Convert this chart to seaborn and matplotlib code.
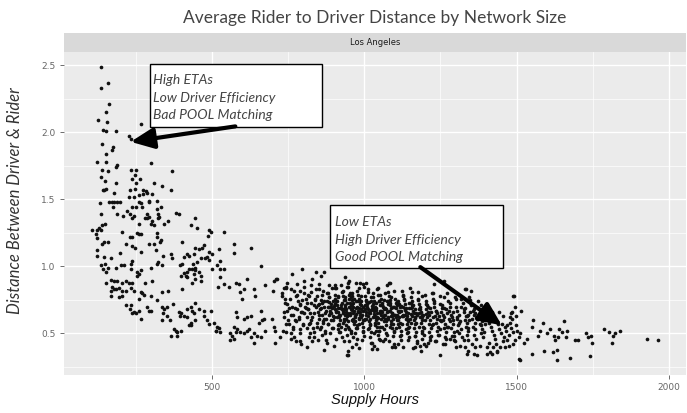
import numpy as np
import pandas as pd
import matplotlib
matplotlib.use("Agg")
import matplotlib.pyplot as plt
import seaborn as sns
from matplotlib.patches import Rectangle

# (supply hours, avg rider-driver distance)
spike_pts = [(136, 2.49), (158, 2.37), (134, 2.33), (161, 2.21), (150, 2.15), (125, 2.09), (153, 2.08),
             (142, 2.02), (150, 2.01), (183, 2.01), (265, 2.06), (227, 1.97), (234, 1.95), (139, 1.91),
             (174, 1.89), (172, 1.87), (150, 1.84), (123, 1.78), (150, 1.78), (186, 1.76), (183, 1.74),
             (298, 1.77), (139, 1.72), (158, 1.71), (232, 1.72), (249, 1.72), (369, 1.71), (136, 1.67),
             (147, 1.64), (245, 1.68), (238, 1.65), (263, 1.65), (185, 1.62), (249, 1.62), (309, 1.62),
             (334, 1.60), (145, 1.57), (142, 1.57), (150, 1.58), (229, 1.57), (246, 1.58), (274, 1.57),
             (284, 1.56), (287, 1.55), (271, 1.54), (363, 1.57), (177, 1.55), (259, 1.53), (243, 1.52),
             (227, 1.52), (303, 1.54), (317, 1.49), (292, 1.49)]

left_pts = [(130, 1.47), (161, 1.48), (172, 1.48), (177, 1.48), (188, 1.48), (197, 1.48), (259, 1.48),
            (267, 1.47), (292, 1.48), (331, 1.44), (175, 1.44), (238, 1.44), (249, 1.44), (268, 1.44),
            (320, 1.43), (136, 1.39), (186, 1.39), (221, 1.41), (229, 1.39), (243, 1.38), (285, 1.39),
            (292, 1.37), (322, 1.39), (325, 1.37), (380, 1.40), (391, 1.39), (208, 1.38), (238, 1.36),
            (279, 1.36), (287, 1.36), (303, 1.34), (322, 1.36), (355, 1.34), (342, 1.32), (445, 1.36),
            (431, 1.31), (451, 1.29), (298, 1.32), (309, 1.31), (259, 1.32), (147, 1.32), (139, 1.31),
            (128, 1.29), (121, 1.27), (106, 1.27), (134, 1.27), (117, 1.24), (205, 1.26), (252, 1.25),
            (259, 1.24), (267, 1.24), (317, 1.25), (320, 1.22), (230, 1.22), (238, 1.22), (489, 1.27),
            (495, 1.26), (538, 1.26), (486, 1.23), (123, 1.21), (145, 1.18), (139, 1.17), (158, 1.18),
            (216, 1.17), (238, 1.15), (245, 1.14), (292, 1.17), (309, 1.17), (328, 1.18), (331, 1.20),
            (402, 1.18), (473, 1.16), (467, 1.14), (456, 1.13), (445, 1.14), (573, 1.17), (626, 1.14),
            (522, 1.13), (573, 1.10), (489, 1.11), (500, 1.09), (440, 1.09), (416, 1.09), (424, 1.08),
            (363, 1.09), (339, 1.08), (314, 1.12), (265, 1.11), (197, 1.10), (121, 1.08), (123, 1.12),
            (145, 1.07), (166, 1.06), (369, 1.06), (407, 1.07), (476, 1.06), (484, 1.07), (489, 1.05),
            (464, 1.06), (451, 1.03), (438, 1.02), (445, 0.99), (442, 0.97), (434, 0.98), (424, 0.98),
            (400, 1.02), (394, 1.01), (322, 1.03), (336, 1.01), (238, 1.04), (234, 1.02), (199, 1.01),
            (183, 0.99), (147, 1.02), (136, 1.01), (142, 0.98), (158, 0.99), (210, 1.01), (232, 0.98),
            (254, 0.96), (298, 0.99), (317, 1.02), (527, 1.04), (517, 1.01), (527, 0.98), (538, 0.98),
            (500, 0.98), (659, 1.00), (416, 0.96), (413, 0.93), (418, 0.92), (440, 0.94), (445, 0.91),
            (456, 0.96), (464, 0.93), (462, 0.89), (434, 0.88), (407, 0.95), (398, 0.93), (265, 0.97),
            (259, 0.94), (252, 0.93), (150, 0.96), (169, 0.90), (177, 0.89), (188, 0.89), (205, 0.88),
            (216, 0.89), (227, 0.88), (238, 0.88), (278, 0.88), (303, 0.89), (150, 0.88), (527, 0.92),
            (538, 0.87), (519, 0.85), (555, 0.85), (577, 0.88), (588, 0.87), (613, 0.91), (604, 0.83),
            (593, 0.81), (599, 0.76), (637, 0.83), (642, 0.78), (675, 0.86), (703, 0.89), (711, 0.91),
            (700, 0.82), (172, 0.85), (177, 0.83), (166, 0.82), (183, 0.83), (194, 0.84), (205, 0.82),
            (216, 0.82), (232, 0.84), (243, 0.82), (265, 0.81), (270, 0.80), (336, 0.81), (355, 0.82),
            (402, 0.83), (320, 0.75), (298, 0.78), (276, 0.79), (259, 0.76), (166, 0.78), (194, 0.77),
            (205, 0.78), (216, 0.71), (232, 0.71), (230, 0.68), (243, 0.66), (249, 0.65), (238, 0.65),
            (259, 0.67), (287, 0.70), (292, 0.67), (298, 0.67), (336, 0.70), (342, 0.68), (352, 0.70),
            (339, 0.65), (372, 0.72), (391, 0.66), (396, 0.65), (418, 0.68), (429, 0.70), (434, 0.67),
            (440, 0.65), (445, 0.73), (456, 0.68), (473, 0.67), (473, 0.63), (497, 0.67), (267, 0.61),
            (336, 0.60), (352, 0.63), (361, 0.60), (394, 0.63), (407, 0.63), (416, 0.62), (429, 0.58),
            (424, 0.56), (445, 0.60), (484, 0.60), (489, 0.57), (506, 0.58), (517, 0.55), (514, 0.52),
            (522, 0.54), (511, 0.52), (527, 0.51), (577, 0.66), (582, 0.62), (604, 0.61), (615, 0.62),
            (626, 0.63), (659, 0.67), (670, 0.61), (664, 0.60), (653, 0.58), (697, 0.61), (374, 0.53),
            (380, 0.52), (385, 0.51), (396, 0.52), (363, 0.48), (385, 0.48), (429, 0.56), (571, 0.55),
            (582, 0.53), (577, 0.51), (604, 0.50), (615, 0.52), (620, 0.53), (626, 0.47), (637, 0.50),
            (648, 0.48), (659, 0.47), (675, 0.52), (708, 0.52), (703, 0.55), (724, 0.47), (558, 0.50),
            (566, 0.48), (560, 0.45), (571, 0.46), (593, 0.51), (637, 0.43), (706, 0.43)]

upper_mid_pts = [(796, 0.98), (763, 0.94), (840, 0.96), (856, 0.93), (867, 0.96), (714, 0.91), (747, 0.875),
                 (801, 0.89), (829, 0.91), (949, 0.89), (1004, 0.88), (1080, 0.88), (1228, 0.87),
                 (1261, 0.89), (944, 0.845), (905, 0.84), (883, 0.86), (851, 0.87), (780, 0.87),
                 (736, 0.84), (938, 0.92), (945, 0.88), (987, 0.88), (997, 0.87), (1083, 0.88),
                 (1332, 0.83), (1350, 0.82), (1490, 0.78)]

core_pts = [
    (730, 0.80), (738, 0.76), (745, 0.72), (752, 0.69), (735, 0.66), (760, 0.64), (748, 0.60), (742, 0.57),
    (765, 0.55), (758, 0.50), (770, 0.47), (733, 0.52), (775, 0.78), (782, 0.74), (790, 0.71), (778, 0.68),
    (795, 0.66), (785, 0.62), (772, 0.60), (798, 0.57), (788, 0.53), (776, 0.44), (792, 0.42), (760, 0.83),
    (742, 0.85), (790, 0.82),
    (803, 0.80), (808, 0.76), (812, 0.73), (806, 0.70), (815, 0.68), (820, 0.65), (810, 0.62), (825, 0.60),
    (818, 0.57), (830, 0.54), (822, 0.50), (835, 0.47), (828, 0.44), (812, 0.40), (840, 0.83), (845, 0.78),
    (838, 0.75), (850, 0.72), (842, 0.70), (855, 0.68), (848, 0.66), (860, 0.64), (852, 0.61), (865, 0.58),
    (858, 0.55), (870, 0.52), (862, 0.49), (875, 0.45), (880, 0.80), (885, 0.77), (878, 0.74), (890, 0.72),
    (883, 0.70), (895, 0.69), (888, 0.67), (872, 0.65), (898, 0.63), (892, 0.60), (880, 0.57), (896, 0.54),
    (886, 0.50), (899, 0.41), (868, 0.38), (826, 0.86), (864, 0.82), (816, 0.79), (893, 0.84), (857, 0.75),
    (833, 0.71), (869, 0.70), (874, 0.61), (846, 0.58), (884, 0.64), (861, 0.73),
    (902, 0.79), (905, 0.76), (908, 0.74), (903, 0.72), (910, 0.71), (913, 0.69), (907, 0.67), (915, 0.66),
    (918, 0.64), (911, 0.62), (920, 0.60), (916, 0.57), (923, 0.55), (919, 0.51), (925, 0.47), (928, 0.81),
    (930, 0.78), (933, 0.75), (927, 0.73), (935, 0.71), (938, 0.70), (932, 0.68), (940, 0.66), (936, 0.64),
    (943, 0.63), (939, 0.61), (945, 0.59), (941, 0.56), (948, 0.53), (944, 0.49), (950, 0.44), (946, 0.37),
    (952, 0.80), (955, 0.77), (958, 0.75), (953, 0.73), (960, 0.72), (963, 0.70), (957, 0.68), (965, 0.67),
    (962, 0.65), (968, 0.63), (964, 0.61), (970, 0.59), (966, 0.57), (972, 0.54), (969, 0.50), (975, 0.46),
    (971, 0.42), (977, 0.82), (980, 0.79), (983, 0.76), (978, 0.74), (985, 0.72), (988, 0.71), (982, 0.69),
    (990, 0.68), (986, 0.66), (993, 0.64), (989, 0.62), (995, 0.60), (991, 0.58), (997, 0.55), (994, 0.52),
    (998, 0.48), (984, 0.39), (906, 0.84), (922, 0.86), (947, 0.85), (974, 0.88), (999, 0.85), (912, 0.77),
    (937, 0.77), (961, 0.78), (987, 0.74), (924, 0.69), (949, 0.70), (973, 0.69), (929, 0.65), (954, 0.64),
    (979, 0.66), (934, 0.59), (959, 0.60), (981, 0.61), (914, 0.53), (956, 0.52), (976, 0.56),
    (1002, 0.78), (1005, 0.75), (1008, 0.73), (1003, 0.71), (1010, 0.70), (1013, 0.68), (1007, 0.66),
    (1015, 0.65), (1012, 0.63), (1018, 0.61), (1014, 0.59), (1020, 0.57), (1016, 0.54), (1022, 0.51),
    (1019, 0.47), (1024, 0.43), (1027, 0.80), (1030, 0.77), (1033, 0.74), (1028, 0.72), (1035, 0.70),
    (1038, 0.69), (1032, 0.67), (1040, 0.65), (1036, 0.63), (1043, 0.62), (1039, 0.60), (1045, 0.58),
    (1041, 0.55), (1048, 0.52), (1044, 0.49), (1050, 0.45), (1052, 0.79), (1055, 0.76), (1058, 0.73),
    (1053, 0.71), (1060, 0.70), (1063, 0.68), (1057, 0.66), (1065, 0.64), (1062, 0.62), (1068, 0.61),
    (1064, 0.59), (1070, 0.56), (1066, 0.53), (1072, 0.50), (1069, 0.46), (1077, 0.81), (1080, 0.78),
    (1083, 0.75), (1078, 0.72), (1085, 0.71), (1088, 0.69), (1082, 0.67), (1090, 0.65), (1086, 0.63),
    (1093, 0.61), (1089, 0.59), (1095, 0.57), (1091, 0.54), (1097, 0.51), (1094, 0.48), (1099, 0.42),
    (1011, 0.83), (1046, 0.84), (1074, 0.86), (1023, 0.74), (1049, 0.74), (1073, 0.74), (1025, 0.68),
    (1051, 0.67), (1075, 0.66), (1029, 0.62), (1054, 0.61), (1079, 0.62), (1034, 0.56), (1059, 0.55),
    (1084, 0.55), (1006, 0.61), (1037, 0.52), (1096, 0.64), (1061, 0.44), (1031, 0.41),
    (1102, 0.76), (1105, 0.73), (1108, 0.71), (1103, 0.69), (1110, 0.67), (1113, 0.66), (1107, 0.64),
    (1115, 0.62), (1112, 0.60), (1118, 0.58), (1114, 0.55), (1120, 0.52), (1116, 0.48), (1122, 0.45),
    (1127, 0.78), (1130, 0.75), (1133, 0.72), (1128, 0.70), (1135, 0.68), (1138, 0.66), (1132, 0.64),
    (1140, 0.63), (1136, 0.61), (1143, 0.59), (1139, 0.57), (1145, 0.54), (1141, 0.50), (1148, 0.47),
    (1152, 0.77), (1155, 0.74), (1158, 0.71), (1153, 0.69), (1160, 0.67), (1163, 0.65), (1157, 0.63),
    (1165, 0.62), (1162, 0.60), (1168, 0.57), (1164, 0.54), (1170, 0.51), (1166, 0.48), (1172, 0.44),
    (1177, 0.76), (1180, 0.72), (1183, 0.70), (1178, 0.68), (1185, 0.66), (1188, 0.64), (1182, 0.62),
    (1190, 0.60), (1186, 0.58), (1193, 0.55), (1189, 0.52), (1195, 0.49), (1191, 0.46), (1197, 0.42),
    (1124, 0.82), (1150, 0.84), (1175, 0.81), (1199, 0.79), (1117, 0.70), (1147, 0.69), (1171, 0.65),
    (1123, 0.63), (1154, 0.58), (1179, 0.55), (1111, 0.57), (1137, 0.53), (1161, 0.39), (1187, 0.37),
    (1126, 0.40),
    (1202, 0.74), (1206, 0.71), (1203, 0.68), (1210, 0.66), (1213, 0.64), (1207, 0.62), (1215, 0.60),
    (1212, 0.57), (1218, 0.54), (1214, 0.51), (1220, 0.48), (1225, 0.76), (1230, 0.73), (1228, 0.70),
    (1235, 0.67), (1238, 0.65), (1232, 0.63), (1240, 0.61), (1236, 0.58), (1243, 0.55), (1239, 0.52),
    (1245, 0.49), (1250, 0.72), (1255, 0.69), (1253, 0.66), (1260, 0.64), (1263, 0.62), (1257, 0.60),
    (1265, 0.57), (1262, 0.54), (1268, 0.51), (1264, 0.47), (1275, 0.74), (1280, 0.70), (1278, 0.67),
    (1285, 0.64), (1288, 0.62), (1282, 0.59), (1290, 0.57), (1286, 0.54), (1293, 0.51), (1289, 0.48),
    (1295, 0.45), (1222, 0.80), (1248, 0.78), (1272, 0.80), (1297, 0.77), (1217, 0.69), (1267, 0.68),
    (1247, 0.60), (1292, 0.60), (1227, 0.57), (1273, 0.55), (1258, 0.42), (1208, 0.43),
    (1302, 0.70), (1306, 0.67), (1310, 0.64), (1305, 0.61), (1313, 0.59), (1308, 0.56), (1316, 0.53),
    (1312, 0.50), (1320, 0.47), (1325, 0.73), (1330, 0.69), (1328, 0.66), (1335, 0.63), (1332, 0.60),
    (1338, 0.58), (1334, 0.55), (1340, 0.52), (1336, 0.49), (1342, 0.45), (1352, 0.71), (1356, 0.67),
    (1360, 0.64), (1355, 0.61), (1362, 0.58), (1358, 0.55), (1365, 0.53), (1361, 0.49), (1368, 0.46),
    (1375, 0.69), (1380, 0.66), (1378, 0.62), (1385, 0.59), (1382, 0.56), (1388, 0.53), (1384, 0.50),
    (1390, 0.47), (1395, 0.64), (1398, 0.57), (1393, 0.51), (1318, 0.76), (1345, 0.77), (1372, 0.74)]

# extra points of the dense band, read row by row
band_pts = [
    (742, 0.84), (768, 0.82), (803, 0.85), (826, 0.81), (851, 0.83), (877, 0.80), (904, 0.86), (931, 0.82),
    (958, 0.80), (984, 0.84), (1012, 0.81), (1041, 0.83), (1069, 0.80), (1096, 0.82), (1127, 0.79),
    (1158, 0.81), (1189, 0.78), (1224, 0.80), (1262, 0.77), (1301, 0.76), (1347, 0.75),
    (731, 0.78), (757, 0.76), (779, 0.79), (796, 0.75), (818, 0.78), (839, 0.76), (862, 0.79), (884, 0.77),
    (897, 0.74), (915, 0.78), (936, 0.75), (949, 0.79), (967, 0.76), (989, 0.78), (1006, 0.74), (1022, 0.77),
    (1044, 0.79), (1063, 0.75), (1088, 0.77), (1109, 0.74), (1131, 0.76), (1152, 0.73), (1176, 0.75),
    (1203, 0.72), (1229, 0.74), (1254, 0.71), (1283, 0.73), (1316, 0.70), (1352, 0.72), (1386, 0.68),
    (738, 0.73), (761, 0.70), (788, 0.72), (809, 0.69), (824, 0.73), (847, 0.71), (869, 0.74), (881, 0.70),
    (903, 0.72), (921, 0.69), (942, 0.73), (955, 0.71), (973, 0.74), (994, 0.70), (1009, 0.72), (1027, 0.69),
    (1039, 0.73), (1057, 0.71), (1078, 0.74), (1093, 0.70), (1114, 0.72), (1138, 0.69), (1161, 0.71),
    (1184, 0.68), (1208, 0.70), (1236, 0.67), (1261, 0.69), (1292, 0.66), (1327, 0.68), (1363, 0.65),
    (746, 0.67), (771, 0.69), (793, 0.66), (815, 0.68), (836, 0.65), (857, 0.69), (874, 0.67), (892, 0.70),
    (908, 0.66), (926, 0.68), (944, 0.65), (961, 0.69), (978, 0.67), (997, 0.70), (1015, 0.66), (1031, 0.68),
    (1050, 0.65), (1067, 0.69), (1084, 0.67), (1101, 0.64), (1121, 0.67), (1144, 0.65), (1167, 0.68),
    (1193, 0.64), (1219, 0.66), (1245, 0.63), (1271, 0.65), (1303, 0.62), (1339, 0.64), (1374, 0.61),
    (735, 0.62), (764, 0.64), (784, 0.61), (802, 0.65), (829, 0.62), (850, 0.64), (866, 0.61), (889, 0.65),
    (901, 0.62), (919, 0.64), (933, 0.61), (952, 0.65), (969, 0.62), (986, 0.64), (1003, 0.61), (1019, 0.65),
    (1036, 0.62), (1054, 0.64), (1072, 0.61), (1091, 0.63), (1107, 0.60), (1126, 0.63), (1149, 0.61),
    (1172, 0.64), (1198, 0.60), (1224, 0.62), (1251, 0.59), (1277, 0.61), (1311, 0.58), (1345, 0.60),
    (1381, 0.57),
    (752, 0.57), (775, 0.59), (798, 0.56), (821, 0.58), (843, 0.55), (863, 0.59), (879, 0.57), (896, 0.60),
    (912, 0.56), (929, 0.58), (947, 0.55), (964, 0.59), (981, 0.57), (999, 0.60), (1017, 0.56), (1034, 0.58),
    (1052, 0.55), (1070, 0.59), (1087, 0.57), (1104, 0.54), (1124, 0.57), (1147, 0.55), (1170, 0.58),
    (1195, 0.54), (1221, 0.56), (1248, 0.53), (1274, 0.55), (1306, 0.52), (1341, 0.54),
    (741, 0.51), (767, 0.53), (790, 0.50), (813, 0.54), (834, 0.51), (855, 0.53), (872, 0.50), (893, 0.54),
    (917, 0.51), (938, 0.53), (957, 0.50), (976, 0.54), (995, 0.51), (1013, 0.53), (1032, 0.50), (1049, 0.52),
    (1075, 0.49), (1098, 0.52), (1119, 0.49), (1142, 0.51), (1166, 0.48), (1191, 0.50), (1216, 0.47),
    (1241, 0.49), (1268, 0.46), (1296, 0.48), (1329, 0.45),
    (758, 0.46), (787, 0.44), (819, 0.47), (848, 0.45), (877, 0.43), (906, 0.46), (934, 0.44), (963, 0.47),
    (991, 0.45), (1021, 0.43), (1047, 0.46), (1081, 0.44), (1112, 0.42), (1143, 0.45), (1174, 0.43),
    (1204, 0.41), (1237, 0.44), (1266, 0.42), (1302, 0.40),
    (883, 0.735), (899, 0.705), (911, 0.745), (924, 0.715), (939, 0.685), (951, 0.755), (963, 0.725),
    (977, 0.695), (988, 0.745), (1001, 0.685), (1014, 0.735), (1026, 0.705), (1037, 0.675), (1048, 0.745),
    (1059, 0.715), (1071, 0.685), (1083, 0.725), (1096, 0.695), (1108, 0.735), (1119, 0.705), (1133, 0.675),
    (1146, 0.725), (1158, 0.695), (886, 0.655), (904, 0.685), (918, 0.625), (931, 0.665), (946, 0.635),
    (958, 0.675), (971, 0.645), (983, 0.615), (994, 0.665), (1007, 0.635), (1021, 0.675), (1033, 0.645),
    (1044, 0.615), (1056, 0.665), (1068, 0.635), (1079, 0.605), (1091, 0.655), (1103, 0.625), (1115, 0.665),
    (1128, 0.635), (1140, 0.605), (1153, 0.645), (1165, 0.615), (1178, 0.655), (1188, 0.625), (1201, 0.645)]

low_pts = [(945, 0.34), (1250, 0.34), (1370, 0.34), (1403, 0.35), (1419, 0.35), (1436, 0.36), (960, 0.40),
           (1025, 0.385), (1042, 0.385), (1091, 0.40), (1102, 0.40), (1167, 0.40), (1184, 0.41),
           (1315, 0.41), (1332, 0.40), (1217, 0.45), (1233, 0.44), (1282, 0.46), (1299, 0.44), (943, 0.336)]

tail_pts = [(1335, 0.83), (1492, 0.78), (1495, 0.70), (1515, 0.67), (1481, 0.65), (1485, 0.61),
            (1479, 0.58), (1383, 0.71), (1400, 0.71), (1361, 0.68), (1348, 0.66), (1337, 0.63), (1370, 0.61),
            (1392, 0.60), (1413, 0.62), (1441, 0.66), (1455, 0.63), (1452, 0.57), (1463, 0.55), (1553, 0.60),
            (1586, 0.58), (1656, 0.59), (1550, 0.55), (1578, 0.52), (1572, 0.48), (1599, 0.50), (1610, 0.53),
            (1623, 0.48), (1641, 0.53), (1649, 0.51), (1665, 0.52), (1627, 0.45), (1638, 0.47), (1663, 0.47),
            (1692, 0.45), (1703, 0.45), (1729, 0.50), (1736, 0.47), (1745, 0.48), (1747, 0.43), (1788, 0.53),
            (1805, 0.51), (1818, 0.48), (1824, 0.50), (1840, 0.52), (1813, 0.43), (1928, 0.46), (1965, 0.45),
            (1501, 0.52), (1512, 0.50), (1507, 0.47), (1534, 0.46), (1523, 0.43), (1495, 0.45), (1490, 0.42),
            (1468, 0.45), (1474, 0.41), (1463, 0.40), (1446, 0.40), (1435, 0.37), (1424, 0.40), (1413, 0.36),
            (1402, 0.40), (1381, 0.41), (1364, 0.40), (1353, 0.42), (1342, 0.37), (1337, 0.35), (1359, 0.35),
            (1550, 0.35), (1589, 0.37), (1621, 0.36), (1632, 0.38), (1676, 0.32), (1742, 0.335), (1507, 0.31),
            (1510, 0.30), (1633, 0.30),
            (1405, 0.62), (1410, 0.58), (1415, 0.55), (1420, 0.52), (1425, 0.49), (1430, 0.46), (1418, 0.66),
            (1428, 0.60), (1438, 0.57), (1444, 0.53), (1448, 0.50), (1458, 0.47), (1466, 0.52), (1470, 0.56),
            (1475, 0.49), (1482, 0.54), (1488, 0.51), (1497, 0.56), (1408, 0.43), (1432, 0.42), (1456, 0.44),
            (1478, 0.62), (1486, 0.66), (1497, 0.63)]

all_pts = spike_pts + left_pts + upper_mid_pts + core_pts + band_pts + low_pts + tail_pts
df = pd.DataFrame(all_pts, columns=["supply_hours", "distance"])

title = "Average Rider to Driver Distance by Network Size"
facet = "Los Angeles"
note_high = "High ETAs\nLow Driver Efficiency\nBad POOL Matching"
note_low = "Low ETAs\nHigh Driver Efficiency\nGood POOL Matching"

W, H = 687, 413
fig = plt.figure(figsize=(W / 100, H / 100), dpi=100)
fig.patch.set_facecolor("white")

# panel in pixel terms: left 64, right 686, top 52, bottom 375
ax = fig.add_axes([64 / W, 1 - 375 / H, (686 - 64) / W, (375 - 52) / H])
ax.set_facecolor("#EBEBEB")
sns.scatterplot(data=df, x="supply_hours", y="distance", color="#111111", s=7,
                linewidth=0, ax=ax, zorder=3)
ax.set_xlim(13, 2057)
ax.set_ylim(0.19, 2.60)
ax.set_xticks([500, 1000, 1500, 2000])
ax.set_xticks([250, 750, 1250, 1750], minor=True)
ax.set_yticks([0.5, 1.0, 1.5, 2.0, 2.5])
ax.set_yticks([0.25, 0.75, 1.25, 1.75, 2.25], minor=True)
ax.grid(which="major", color="white", lw=1.0, zorder=0)
ax.grid(which="minor", color="white", lw=0.5, zorder=0)
ax.set_axisbelow(True)
for s in ax.spines.values():
    s.set_visible(False)
ax.tick_params(which="major", length=3, width=0.6, color="#555555",
               labelsize=6.5, labelcolor="#666666", pad=3)
ax.tick_params(which="minor", length=0)
ax.set_xlabel("")
ax.set_ylabel("")

# facet strip
sax = fig.add_axes([64 / W, 1 - 52 / H, (686 - 64) / W, 19 / H])
sax.set_facecolor("#D9D9D9")
sax.set_xticks([]); sax.set_yticks([])
for s in sax.spines.values():
    s.set_visible(False)
sax.text(0.5, 0.5, facet, ha="center", va="center", fontsize=6, color="#1A1A1A")

fig.text(375 / W, 1 - 18 / H, title, ha="center", va="center", fontsize=12.5,
         family="Lato", color="#444444")
fig.text(15 / W, 1 - 201 / H, "Distance Between Driver & Rider", rotation=90, ha="center",
         va="center", fontsize=12, family="Lato", style="italic", color="#333333")
fig.text(375 / W, 1 - 400 / H, "Supply Hours", ha="center", va="center", fontsize=10.5,
         family="Liberation Sans", style="italic", color="#111111")

# annotation boxes + arrows
ax.add_patch(Rectangle((294, 2.037), 568, 0.47, facecolor="white", edgecolor="black",
                       lw=1.0, zorder=5))
ax.text(307, 2.26, note_high, ha="left", va="center", fontsize=10, family="Lato",
        style="italic", color="#444444", linespacing=1.55, zorder=6)
ax.annotate("", xy=(232, 1.93), xytext=(576, 2.045),
            arrowprops=dict(arrowstyle="-|>,head_length=1.0,head_width=0.45", lw=3,
                            color="black", mutation_scale=14, shrinkA=0, shrinkB=0), zorder=6)

ax.add_patch(Rectangle((888, 0.99), 569, 0.465, facecolor="white", edgecolor="black",
                       lw=1.0, zorder=5))
ax.text(902, 1.20, note_low, ha="left", va="center", fontsize=10, family="Lato",
        style="italic", color="#444444", linespacing=1.55, zorder=6)
ax.annotate("", xy=(1452, 0.56), xytext=(1184, 0.995),
            arrowprops=dict(arrowstyle="-|>,head_length=1.0,head_width=0.45", lw=3,
                            color="black", mutation_scale=14, shrinkA=0, shrinkB=0), zorder=6)

fig.savefig("out.png", dpi=100)
